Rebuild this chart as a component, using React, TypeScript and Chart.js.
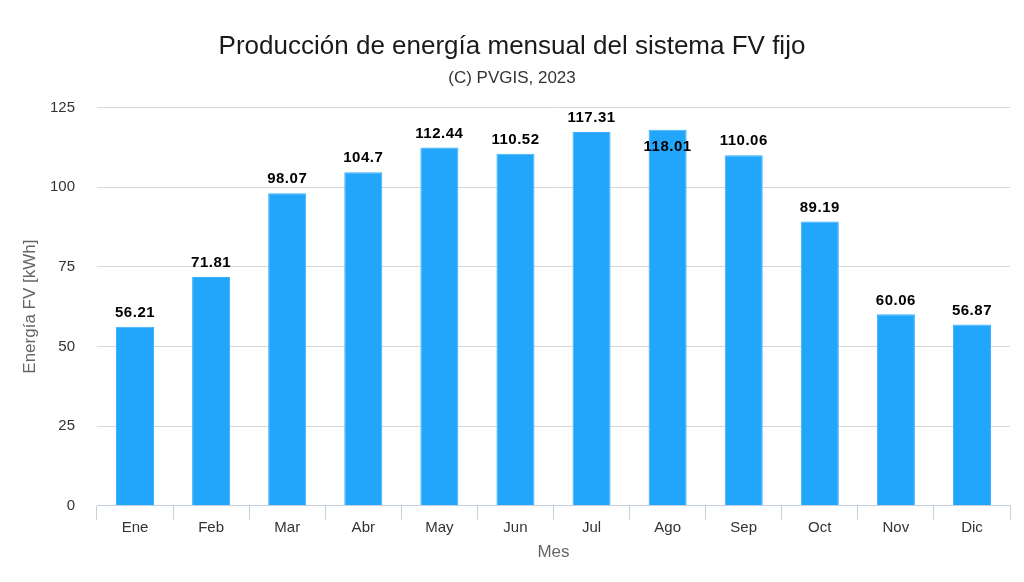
import React, { useEffect, useRef } from "react";
import { Chart, registerables } from "chart.js";

Chart.register(...registerables);

const categories = ["Ene", "Feb", "Mar", "Abr", "May", "Jun", "Jul", "Ago", "Sep", "Oct", "Nov", "Dic"];
const energy = [56.21, 71.81, 98.07, 104.7, 112.44, 110.52, 117.31, 118.01, 110.06, 89.19, 60.06, 56.87];
const energyLabels = ["56.21", "71.81", "98.07", "104.7", "112.44", "110.52", "117.31", "118.01", "110.06", "89.19", "60.06", "56.87"];
const yTicks = [0, 25, 50, 75, 100, 125];

const FONT = "'Liberation Sans', Arial, sans-serif";

const labelPlugin = {
  id: "barLabels",
  afterDatasetsDraw(chart: any) {
    const ctx = chart.ctx;
    const meta = chart.getDatasetMeta(0);
    const area = chart.chartArea;
    ctx.save();
    ctx.font = `bold 15px ${FONT}`;
    ctx.fillStyle = "#000000";
    ctx.textAlign = "center";
    ctx.textBaseline = "middle";
    try { (ctx as any).letterSpacing = "0.5px"; } catch (e) {}
    meta.data.forEach((bar: any, i: number) => {
      let y = bar.y - 14;
      if (y - 8 < area.top + 1) {
        y = bar.y + 17;
      }
      ctx.fillText(energyLabels[i], bar.x, y);
    });
    ctx.restore();
  },
};

export default function App() {
  const ref = useRef<HTMLCanvasElement | null>(null);
  useEffect(() => {
    document.body.style.margin = "0";
    const chart = new Chart(ref.current as HTMLCanvasElement, {
      type: "bar",
      data: {
        labels: categories,
        datasets: [
          {
            data: energy,
            backgroundColor: "#21a6fc",
            borderColor: "#3aaefc",
            borderWidth: 1,
            barPercentage: 1,
            categoryPercentage: 0.5,
          },
        ],
      },
      options: {
        animation: false,
        responsive: false,
        maintainAspectRatio: false,
        layout: { padding: { left: 14, right: 14, top: 0, bottom: 19 } },
        plugins: {
          legend: { display: false },
          tooltip: { enabled: false },
          title: {
            display: true,
            text: "Producción de energía mensual del sistema FV fijo",
            color: "#1a1a1a",
            font: { family: FONT, size: 26, weight: "normal" },
            padding: { top: 31, bottom: 6 },
          },
          subtitle: {
            display: true,
            text: "(C) PVGIS, 2023",
            color: "#333333",
            font: { family: FONT, size: 17, weight: "normal" },
            padding: { top: 0, bottom: 19 },
          },
        },
        scales: {
          x: {
            offset: true,
            grid: {
              display: true,
              drawOnChartArea: false,
              drawTicks: true,
              tickLength: 14,
              offset: true,
              color: "#c3cfdd",
            },
            border: { display: true, color: "#c3cfdd" },
            ticks: {
              color: "#333333",
              font: { family: FONT, size: 15 },
              padding: -1,
            },
            title: {
              display: true,
              text: "Mes",
              color: "#666666",
              font: { family: FONT, size: 17 },
              padding: { top: 7, bottom: 0 },
            },
          },
          y: {
            min: 0,
            max: 125,
            afterBuildTicks(axis: any) {
              axis.ticks = yTicks.map((v) => ({ value: v }));
            },
            afterFit(axis: any) {
              axis.width = 83;
            },
            grid: { color: "#d8d8d8", drawTicks: false },
            border: { display: false },
            ticks: {
              color: "#333333",
              font: { family: FONT, size: 15 },
              padding: 22,
            },
            title: {
              display: true,
              text: "Energía FV [kWh]",
              color: "#666666",
              font: { family: FONT, size: 17 },
              padding: { top: 6, bottom: 0 },
            },
          },
        },
      },
      plugins: [labelPlugin],
    });
    return () => chart.destroy();
  }, []);
  return (
    <div style={{ position: "absolute", left: 0, top: 0, width: 1024, height: 582, background: "#ffffff" }}>
      <canvas ref={ref} width={1024} height={582} style={{ width: 1024, height: 582 }} />
    </div>
  );
}
